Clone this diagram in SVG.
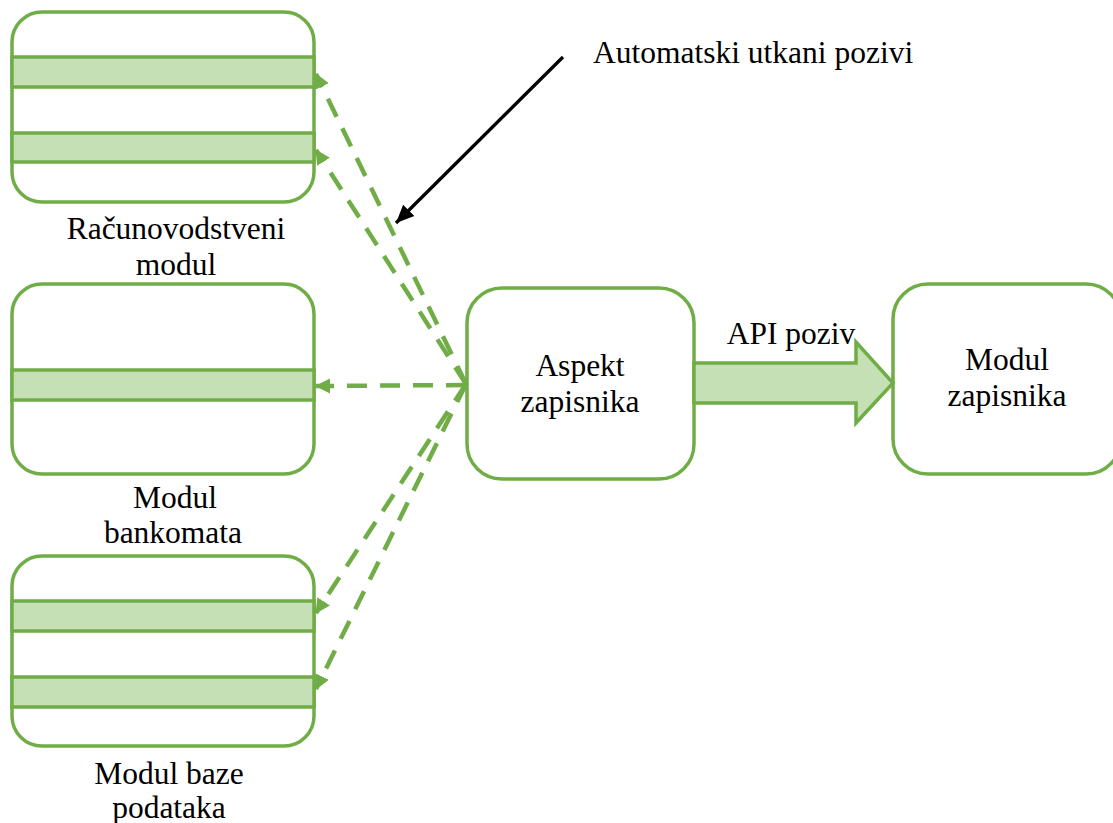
<svg xmlns="http://www.w3.org/2000/svg" width="1113" height="823" viewBox="0 0 1113 823">
<style>
.box{fill:#fff;stroke:#70AD47;stroke-width:3.5}
.band{fill:#C5E0B4;stroke:#70AD47;stroke-width:3.5}
.lbl{font-family:"Liberation Serif","Times New Roman",serif;font-size:31.5px;fill:#000;text-anchor:middle}
.dash{fill:none;stroke:#70AD47;stroke-width:4.5;stroke-dasharray:20 13;marker-end:url(#ga)}
</style>
<defs>
<marker id="ga" markerUnits="userSpaceOnUse" markerWidth="16" markerHeight="16" refX="14" refY="7.5" orient="auto" viewBox="0 0 16 15">
<path d="M0,0 L15,7.5 L0,15 Z" fill="#70AD47"/>
</marker>
<marker id="ka" markerUnits="userSpaceOnUse" markerWidth="20" markerHeight="18" refX="18" refY="8" orient="auto" viewBox="0 0 20 16">
<path d="M0,0 L18,8 L0,16 Z" fill="#000"/>
</marker>
</defs>
<rect width="1113" height="823" fill="#fff"/>
<g id="racunovodstveni">
<rect class="box" x="12" y="12" width="302" height="190" rx="30"/>
<rect class="band" x="12" y="57" width="302" height="30"/>
<rect class="band" x="12" y="133" width="302" height="29"/>
<text class="lbl" x="176" y="239">Računovodstveni</text>
<text class="lbl" x="176" y="275">modul</text>
</g>
<g id="bankomata">
<rect class="box" x="12" y="284" width="302" height="190" rx="30"/>
<rect class="band" x="12" y="370" width="302" height="30"/>
<text class="lbl" x="175" y="508">Modul</text>
<text class="lbl" x="173" y="543">bankomata</text>
</g>
<g id="baze">
<rect class="box" x="12" y="556" width="302" height="190" rx="30"/>
<rect class="band" x="12" y="601" width="302" height="30"/>
<rect class="band" x="12" y="677" width="302" height="30"/>
<text class="lbl" x="169" y="784">Modul baze</text>
<text class="lbl" x="169" y="818">podataka</text>
</g>
<g id="aspekt">
<rect class="box" x="467" y="288" width="227" height="191" rx="35"/>
<text class="lbl" x="580" y="376">Aspekt</text>
<text class="lbl" x="580" y="412">zapisnika</text>
</g>
<g id="modulzapisnika">
<rect class="box" x="893" y="284" width="228" height="190" rx="35"/>
<text class="lbl" x="1007" y="370">Modul</text>
<text class="lbl" x="1007" y="406">zapisnika</text>
</g>
<g id="connectors">
<line class="dash" x1="466" y1="384" x2="316" y2="74"/>
<line class="dash" x1="466" y1="384" x2="316" y2="150"/>
<line class="dash" x1="466" y1="385" x2="316" y2="386"/>
<line class="dash" x1="466" y1="384" x2="316" y2="613"/>
<line class="dash" x1="466" y1="384" x2="316" y2="689"/>
<polygon points="694,363 856,363 856,342 893,383 856,423 856,403 694,403" fill="#C5E0B4" stroke="#70AD47" stroke-width="3.5" stroke-linejoin="miter"/>
<text class="lbl" x="791" y="344">API poziv</text>
<line x1="563" y1="57" x2="396" y2="223" stroke="#000" stroke-width="3.3" marker-end="url(#ka)"/>
<text x="593" y="63" font-family="Liberation Serif, Times New Roman, serif" font-size="31.5">Automatski utkani pozivi</text>
</g>
</svg>
